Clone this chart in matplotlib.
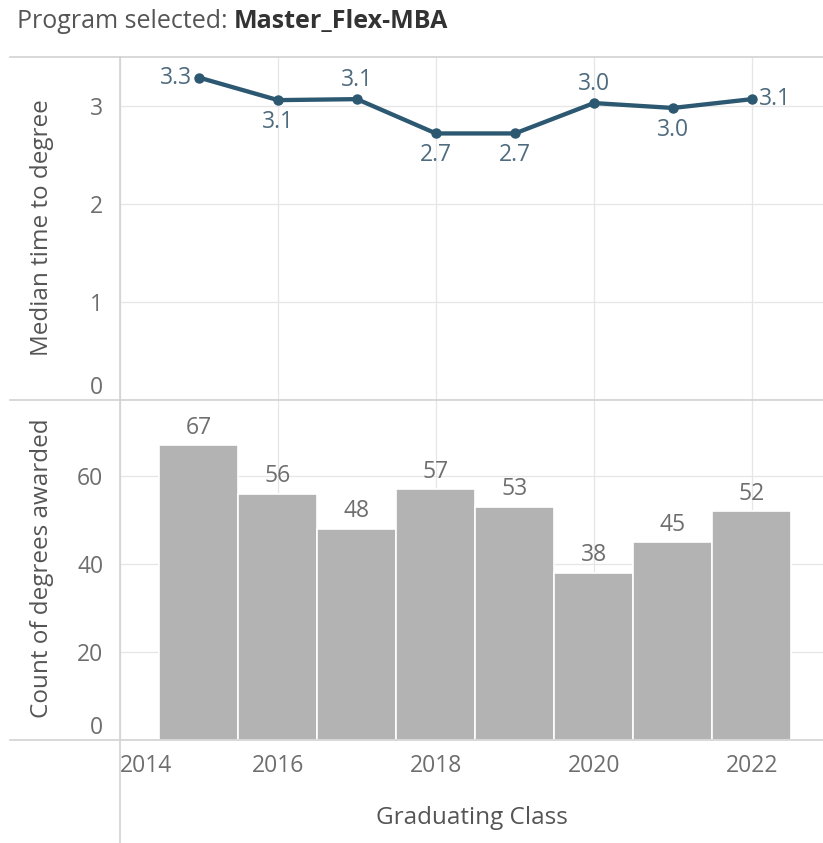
import matplotlib
matplotlib.use("Agg")
import matplotlib.pyplot as plt
from matplotlib.lines import Line2D

# ── Data ──────────────────────────────────────────────────
years = [2015, 2016, 2017, 2018, 2019, 2020, 2021, 2022]
median_time = [3.29, 3.06, 3.07, 2.72, 2.72, 3.03, 2.98, 3.07]
degree_counts = [67, 56, 48, 57, 53, 38, 45, 52]
label_pos = ["left", "below", "above", "below", "below", "above", "below", "right"]
program = "Master_Flex-MBA"

plt.rcParams.update({
    "font.family": ["Open Sans", "DejaVu Sans"],
    "font.size": 16,
})

FS = 16.5
FS_TITLE = 17.5
LINE = "#2c5872"
LBL = "#4f6b7e"
GRAY_TXT = "#6e6e6e"
BAR = "#b3b3b3"
GRID = "#e6e6e6"
BORDER = "#d2d2d2"

W, H = 823, 843
fig = plt.figure(figsize=(W / 100, H / 100), dpi=100)


def fx(px):
    return px / W


def fy(py):
    return 1 - py / H


left, right = fx(120), fx(823)
ax1 = fig.add_axes([left, fy(400), right - left, fy(57) - fy(400)])
ax2 = fig.add_axes([left, fy(740), right - left, fy(400) - fy(740)], sharex=ax1)

xlim = (2014, 2022.9)

# ── Top: median time to degree ───────────────────────────
ax1.plot(years, median_time, "-o", color=LINE, lw=3.1, ms=6.5, zorder=3,
         solid_capstyle="round")
for x, v, p in zip(years, median_time, label_pos):
    if p == "left":
        off, ha, va = (-5, 0), "right", "center"
    elif p == "right":
        off, ha, va = (5, 0), "left", "center"
    elif p == "above":
        off, ha, va = (0, 5), "center", "bottom"
    else:
        off, ha, va = (0, -7), "center", "top"
    ax1.annotate(f"{v:.1f}", (x, v), xytext=off, textcoords="offset points",
                 ha=ha, va=va, color=LBL, fontsize=FS)
ax1.set_ylim(0, 3.5)
ax1.set_yticks([0, 1, 2, 3])

# ── Bottom: count of degrees ─────────────────────────────
bars = ax2.bar(years, degree_counts, width=1.0, color=BAR, edgecolor="white",
               linewidth=1.2, zorder=2)
for b, v in zip(bars, degree_counts):
    ax2.annotate(f"{v}", (b.get_x() + b.get_width() / 2, v), xytext=(0, 4),
                 textcoords="offset points", ha="center", va="bottom",
                 color=GRAY_TXT, fontsize=FS)
ax2.set_ylim(0, 77.3)
ax2.set_yticks([0, 20, 40, 60])

for ax in (ax1, ax2):
    ax.set_xlim(*xlim)
    ax.set_xticks([2014, 2016, 2018, 2020, 2022])
    ax.grid(True, color=GRID, lw=0.9, zorder=0)
    ax.set_axisbelow(True)
    for s in ax.spines.values():
        s.set_visible(False)
    ax.tick_params(length=0, colors=GRAY_TXT, labelsize=FS, pad=12)
    ax.set_facecolor("none")

ax1.tick_params(axis="x", labelbottom=False)
ax2.tick_params(axis="x", pad=10)
for ax in (ax1, ax2):
    ax.get_yticklabels()[0].set_va("bottom")
ax2.get_xticklabels()[0].set_ha("left")

# ── Frame lines ──────────────────────────────────────────
for py in (57, 400, 740):
    fig.add_artist(Line2D([fx(10), 1], [fy(py), fy(py)], color=BORDER, lw=1.2))
fig.add_artist(Line2D([left, left], [fy(57), 0], color=BORDER, lw=1.2))

# ── Axis titles ──────────────────────────────────────────
fig.text(fx(42), fy(228), "Median time to degree", rotation=90,
         ha="center", va="center", color="#555555", fontsize=FS_TITLE)
fig.text(fx(42), fy(568), "Count of degrees awarded", rotation=90,
         ha="center", va="center", color="#555555", fontsize=FS_TITLE)
fig.text((left + right) / 2, fy(818), "Graduating Class",
         ha="center", va="center", color="#555555", fontsize=FS_TITLE)

# ── Header ───────────────────────────────────────────────
t1 = fig.text(fx(17), fy(22), "Program selected: ", ha="left", va="center",
              color="#555555", fontsize=18)
fig.canvas.draw()
bb = t1.get_window_extent(renderer=fig.canvas.get_renderer())
fig.text(bb.x1 / W, fy(22), program, ha="left", va="center",
         color="#333333", fontsize=18, fontweight="bold")

fig.savefig("out.png", dpi=100)
